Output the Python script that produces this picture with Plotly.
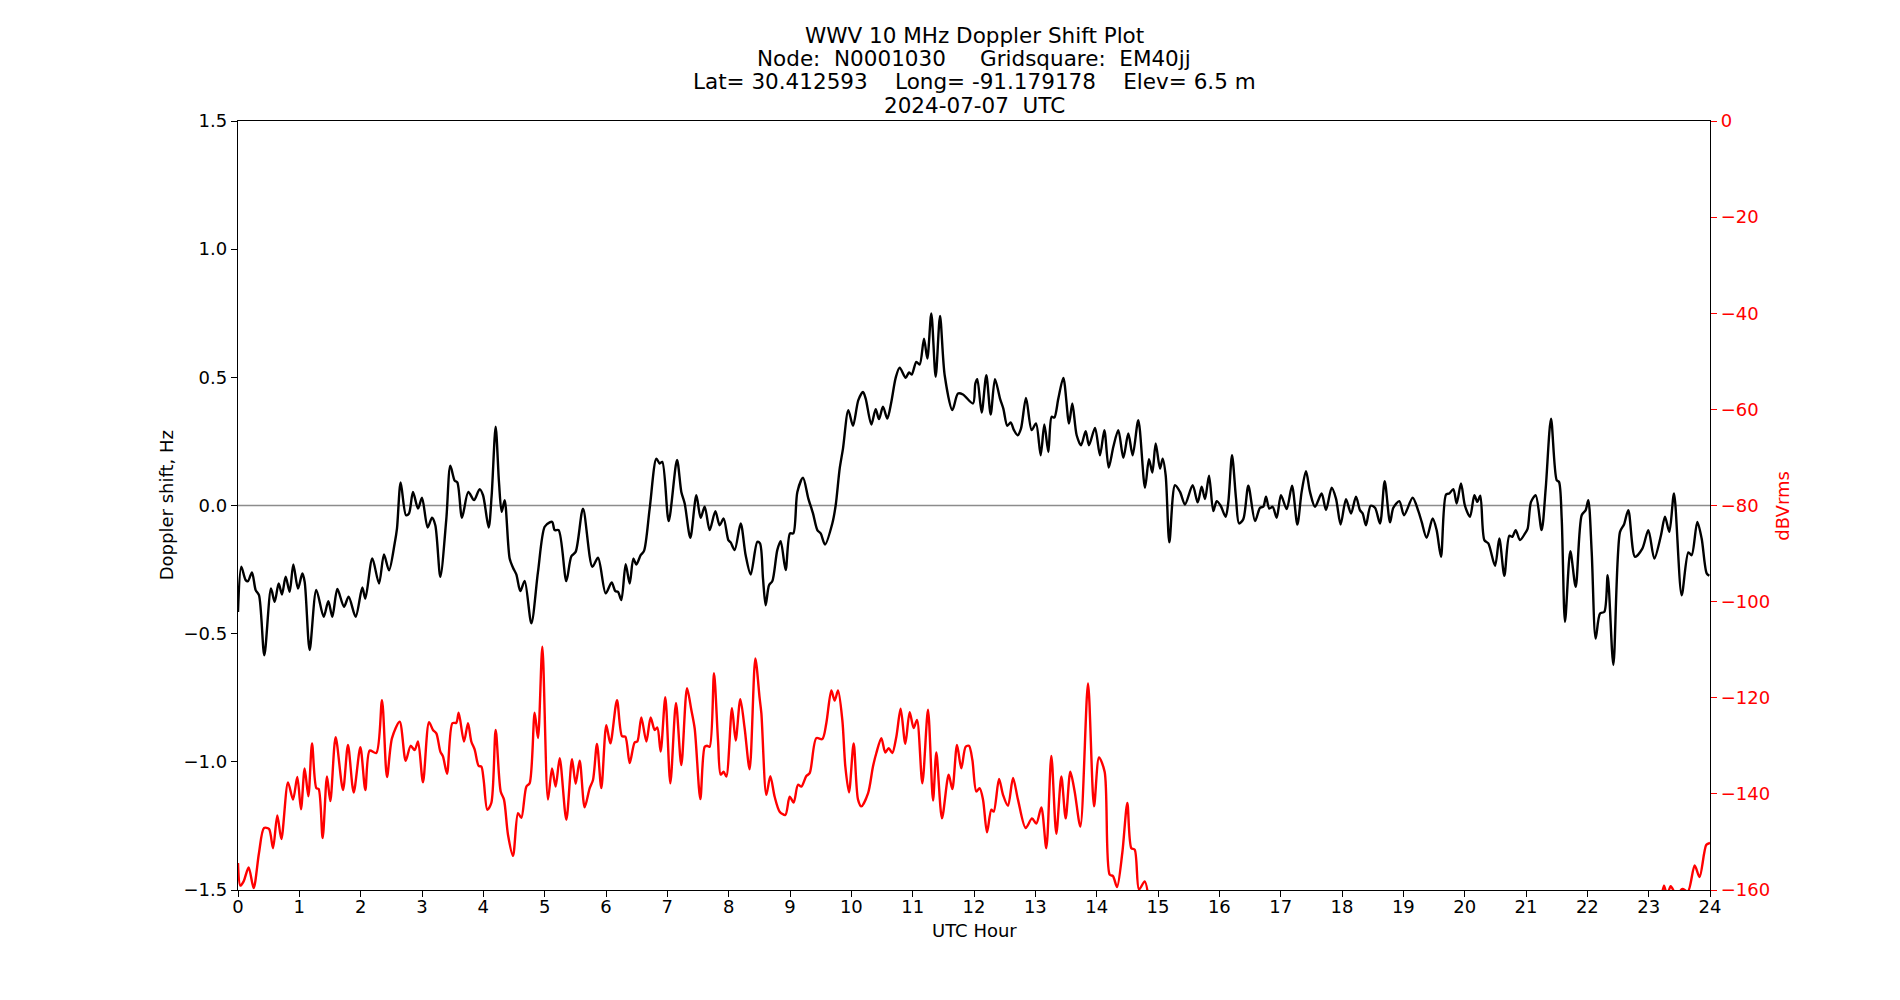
import plotly.graph_objects as go

# ---------------- data ----------------
doppler_hours = [
    0.000, 0.054, 0.125, 0.163, 0.228, 0.288, 0.342, 0.429, 0.538, 0.598, 0.663, 0.717, 0.777, 0.842, 0.902, 0.978,
    1.049, 1.087, 1.168, 1.277, 1.397, 1.473, 1.538, 1.620, 1.728, 1.804, 1.918, 2.027, 2.076, 2.190, 2.299, 2.380,
    2.462, 2.554, 2.592, 2.652, 2.739, 2.788, 2.853, 2.935, 3.000, 3.092, 3.163, 3.217, 3.299, 3.397, 3.462, 3.533,
    3.576, 3.652, 3.755, 3.848, 3.940, 3.995, 4.087, 4.136, 4.201, 4.255, 4.299, 4.348, 4.429, 4.484, 4.538, 4.603,
    4.674, 4.783, 4.891, 5.000, 5.082, 5.125, 5.163, 5.228, 5.353, 5.435, 5.505, 5.625, 5.777, 5.870, 5.995, 6.092,
    6.152, 6.196, 6.250, 6.321, 6.386, 6.446, 6.495, 6.565, 6.620, 6.712, 6.821, 6.875, 6.918, 7.022, 7.158, 7.228,
    7.283, 7.375, 7.473, 7.543, 7.609, 7.690, 7.783, 7.853, 7.918, 7.995, 8.033, 8.098, 8.196, 8.277, 8.359, 8.467,
    8.511, 8.560, 8.603, 8.658, 8.712, 8.793, 8.848, 8.929, 9.000, 9.054, 9.120, 9.212, 9.299, 9.375, 9.446, 9.500,
    9.571, 9.690, 9.745, 9.810, 9.864, 9.951, 10.027, 10.114, 10.190, 10.234, 10.326, 10.397, 10.451, 10.516, 10.587,
    10.652, 10.723, 10.788, 10.886, 10.940, 10.984, 11.060, 11.114, 11.185, 11.239, 11.304, 11.375, 11.446, 11.522,
    11.647, 11.739, 11.821, 11.984, 12.022, 12.054, 12.125, 12.201, 12.272, 12.342, 12.424, 12.478, 12.543, 12.598,
    12.652, 12.712, 12.766, 12.848, 12.940, 13.011, 13.087, 13.147, 13.212, 13.266, 13.310, 13.375, 13.457, 13.549,
    13.603, 13.674, 13.745, 13.821, 13.875, 13.973, 14.054, 14.125, 14.196, 14.272, 14.353, 14.435, 14.516, 14.587,
    14.679, 14.788, 14.853, 14.908, 14.962, 15.033, 15.076, 15.125, 15.185, 15.277, 15.359, 15.440, 15.565, 15.647,
    15.712, 15.766, 15.832, 15.902, 15.957, 16.022, 16.103, 16.147, 16.207, 16.272, 16.321, 16.391, 16.473, 16.582,
    16.663, 16.717, 16.761, 16.815, 16.870, 16.935, 17.005, 17.098, 17.185, 17.272, 17.342, 17.413, 17.478, 17.560,
    17.668, 17.739, 17.832, 17.902, 17.978, 18.065, 18.147, 18.228, 18.293, 18.337, 18.391, 18.467, 18.538, 18.620,
    18.696, 18.783, 18.837, 18.935, 19.011, 19.152, 19.245, 19.299, 19.380, 19.478, 19.543, 19.614, 19.696, 19.750,
    19.815, 19.870, 19.940, 20.005, 20.087, 20.158, 20.207, 20.255, 20.321, 20.386, 20.495, 20.565, 20.647, 20.728,
    20.777, 20.832, 20.902, 20.984, 21.027, 21.082, 21.158, 21.255, 21.321, 21.408, 21.500, 21.538, 21.582, 21.636,
    21.723, 21.810, 21.908, 21.973, 22.016, 22.071, 22.136, 22.207, 22.277, 22.332, 22.424, 22.533, 22.598, 22.668,
    22.777, 22.897, 22.995, 23.092, 23.201, 23.266, 23.337, 23.413, 23.538, 23.647, 23.701, 23.793, 23.864, 23.946,
    23.989,
]
doppler_hz = [
    -0.415, -0.239, -0.291, -0.295, -0.261, -0.330, -0.350, -0.584, -0.324, -0.376, -0.304, -0.347, -0.278, -0.337,
    -0.230, -0.324, -0.265, -0.298, -0.564, -0.329, -0.434, -0.373, -0.434, -0.326, -0.395, -0.356, -0.434, -0.320,
    -0.363, -0.207, -0.304, -0.191, -0.253, -0.148, -0.090, 0.090, -0.038, -0.031, 0.053, -0.012, 0.030, -0.086,
    -0.048, -0.077, -0.278, -0.051, 0.155, 0.097, 0.090, -0.048, 0.053, 0.021, 0.064, 0.040, -0.086, 0.040, 0.307,
    0.092, -0.025, 0.021, -0.207, -0.243, -0.269, -0.334, -0.294, -0.460, -0.259, -0.083, -0.066, -0.064, -0.096,
    -0.096, -0.295, -0.198, -0.181, -0.012, -0.239, -0.204, -0.343, -0.300, -0.334, -0.337, -0.369, -0.229, -0.304,
    -0.207, -0.230, -0.194, -0.177, -0.012, 0.183, 0.164, 0.170, -0.061, 0.178, 0.053, 0.008, -0.126, 0.040, -0.048,
    -0.005, -0.096, -0.022, -0.077, -0.051, -0.135, -0.144, -0.174, -0.070, -0.194, -0.269, -0.142, -0.148, -0.285,
    -0.389, -0.311, -0.295, -0.174, -0.139, -0.252, -0.109, -0.109, 0.053, 0.108, 0.027, -0.031, -0.096, -0.109,
    -0.152, -0.070, 0.001, 0.144, 0.222, 0.372, 0.311, 0.411, 0.443, 0.417, 0.316, 0.376, 0.337, 0.385, 0.339,
    0.404, 0.498, 0.538, 0.498, 0.519, 0.511, 0.560, 0.550, 0.651, 0.573, 0.749, 0.502, 0.739, 0.508, 0.372, 0.437,
    0.433, 0.398, 0.476, 0.493, 0.363, 0.508, 0.355, 0.493, 0.417, 0.378, 0.311, 0.324, 0.294, 0.274, 0.300, 0.420,
    0.294, 0.320, 0.196, 0.316, 0.209, 0.346, 0.343, 0.417, 0.498, 0.320, 0.398, 0.274, 0.235, 0.290, 0.235, 0.303,
    0.196, 0.294, 0.148, 0.229, 0.294, 0.186, 0.281, 0.196, 0.333, 0.069, 0.181, 0.129, 0.242, 0.144, 0.183, 0.118,
    -0.144, 0.079, 0.053, 0.004, 0.079, 0.012, 0.073, 0.025, 0.116, -0.022, 0.017, -0.001, -0.044, 0.014, 0.196,
    0.027, -0.070, -0.053, 0.077, -0.061, -0.009, -0.005, 0.034, -0.012, -0.005, -0.048, 0.040, -0.014, 0.077,
    -0.074, 0.053, 0.134, 0.053, -0.005, 0.047, -0.018, 0.069, 0.027, -0.074, 0.025, -0.031, 0.034, -0.018, -0.031,
    -0.077, -0.001, -0.009, -0.070, 0.095, -0.066, -0.009, 0.017, -0.038, 0.030, -0.022, -0.064, -0.126, -0.051,
    -0.096, -0.200, 0.043, 0.047, 0.064, 0.008, 0.086, -0.001, -0.044, 0.040, 0.014, 0.038, -0.135, -0.148, -0.235,
    -0.129, -0.274, -0.118, -0.122, -0.096, -0.135, -0.109, -0.090, 0.014, 0.040, -0.096, 0.066, 0.339, 0.099,
    0.092, -0.051, -0.454, -0.178, -0.317, -0.038, -0.018, 0.021, -0.181, -0.519, -0.421, -0.415, -0.272, -0.622,
    -0.103, -0.074, -0.018, -0.200, -0.168, -0.096, -0.207, -0.116, -0.044, -0.103, 0.047, -0.350, -0.183, -0.194,
    -0.064, -0.129, -0.265, -0.274,
]

power_hours = [
    0.000, 0.038, 0.092, 0.174, 0.255, 0.342, 0.424, 0.505, 0.571, 0.641, 0.707, 0.815, 0.897, 0.967, 1.027, 1.087,
    1.147, 1.207, 1.277, 1.315, 1.380, 1.451, 1.505, 1.592, 1.712, 1.793, 1.886, 1.995, 2.076, 2.147, 2.255, 2.348,
    2.429, 2.511, 2.636, 2.734, 2.815, 2.880, 2.935, 3.016, 3.114, 3.179, 3.234, 3.299, 3.342, 3.408, 3.495, 3.560,
    3.598, 3.685, 3.750, 3.804, 3.859, 3.924, 3.967, 4.005, 4.065, 4.130, 4.201, 4.283, 4.337, 4.402, 4.484, 4.565,
    4.620, 4.701, 4.755, 4.837, 4.891, 4.962, 5.054, 5.120, 5.179, 5.245, 5.353, 5.446, 5.505, 5.571, 5.652, 5.734,
    5.788, 5.853, 5.924, 6.005, 6.071, 6.179, 6.261, 6.315, 6.386, 6.467, 6.511, 6.576, 6.658, 6.728, 6.793, 6.837,
    6.891, 6.967, 7.049, 7.141, 7.228, 7.321, 7.391, 7.446, 7.538, 7.609, 7.647, 7.690, 7.761, 7.826, 7.870, 7.918,
    7.962, 8.054, 8.114, 8.190, 8.261, 8.342, 8.435, 8.505, 8.533, 8.614, 8.679, 8.750, 8.832, 8.924, 8.995, 9.060,
    9.130, 9.185, 9.266, 9.321, 9.429, 9.527, 9.592, 9.674, 9.728, 9.783, 9.853, 9.902, 9.962, 10.038, 10.109,
    10.163, 10.272, 10.353, 10.408, 10.489, 10.554, 10.609, 10.668, 10.734, 10.804, 10.880, 10.951, 11.016, 11.071,
    11.158, 11.250, 11.332, 11.386, 11.478, 11.587, 11.647, 11.723, 11.793, 11.864, 11.918, 11.973, 12.038, 12.092,
    12.147, 12.212, 12.283, 12.321, 12.408, 12.473, 12.554, 12.636, 12.717, 12.842, 12.946, 13.016, 13.098, 13.179,
    13.261, 13.342, 13.424, 13.495, 13.571, 13.641, 13.734, 13.859, 13.957, 14.038, 14.130, 14.212, 14.266, 14.332,
    14.418, 14.500, 14.565, 14.620, 14.690, 14.783, 14.850, 19.000, 23.200, 23.250, 23.300, 23.360, 23.450, 23.550,
    23.640, 23.750, 23.830, 23.940, 24.000,
]
power_dbv = [
    -154.4, -159.1, -158.2, -155.3, -159.6, -152.3, -147.1, -147.3, -151.3, -144.5, -149.4, -137.6, -141.2, -136.5,
    -143.2, -134.7, -140.5, -129.5, -138.8, -139.0, -149.2, -136.4, -141.5, -128.2, -139.2, -129.8, -139.7, -130.3,
    -139.2, -131.0, -131.5, -120.5, -136.5, -128.4, -125.0, -133.1, -130.0, -130.9, -129.1, -137.6, -125.1, -126.7,
    -127.4, -131.2, -132.2, -135.8, -125.3, -125.2, -123.1, -129.1, -125.3, -129.1, -130.8, -134.2, -134.3, -137.1,
    -143.3, -141.9, -126.7, -139.5, -141.2, -148.5, -152.9, -144.0, -145.0, -138.5, -137.8, -123.1, -128.4, -109.4,
    -141.2, -134.7, -138.5, -132.6, -145.4, -132.8, -137.9, -133.1, -142.8, -138.8, -137.1, -129.6, -138.8, -125.7,
    -129.5, -120.5, -128.0, -128.1, -133.6, -129.3, -129.1, -124.1, -129.1, -124.1, -126.7, -126.2, -131.2, -119.9,
    -137.8, -121.1, -134.0, -118.0, -122.5, -126.4, -141.1, -130.2, -130.0, -130.2, -114.9, -128.8, -136.0, -135.4,
    -136.4, -122.2, -128.9, -120.3, -126.4, -134.9, -111.8, -120.1, -123.2, -140.2, -136.3, -140.6, -143.7, -144.4,
    -140.6, -141.8, -138.1, -138.5, -136.3, -135.7, -128.4, -128.6, -125.3, -118.5, -120.6, -118.5, -124.6, -134.3,
    -139.7, -129.5, -141.2, -142.6, -139.9, -134.3, -131.5, -128.4, -131.4, -130.5, -131.5, -128.1, -122.3, -129.6,
    -123.0, -126.3, -124.6, -137.8, -122.5, -141.4, -131.4, -145.1, -136.0, -139.0, -129.8, -134.7, -130.2, -130.0,
    -132.9, -139.5, -138.8, -141.2, -148.0, -143.3, -143.7, -136.9, -140.2, -142.5, -136.7, -141.2, -147.1, -145.1,
    -146.2, -142.8, -151.3, -132.1, -148.3, -136.4, -145.1, -135.4, -139.5, -146.8, -117.0, -142.6, -132.4, -135.4,
    -156.8, -157.1, -159.4, -152.3, -141.9, -151.3, -151.6, -159.9, -158.2, -162.0, None, -162.0, -159.1, -161.0,
    -159.2, -161.0, -159.8, -160.3, -154.9, -157.3, -150.6, -150.2,
]

x_ticks = list(range(0, 25))
left_ticks = [-1.5, -1.0, -0.5, 0.0, 0.5, 1.0, 1.5]
left_tick_text = ["\u22121.5", "\u22121.0", "\u22120.5", "0.0", "0.5", "1.0", "1.5"]
right_ticks = [0, -20, -40, -60, -80, -100, -120, -140, -160]
right_tick_text = ["0" if v == 0 else "\u2212" + str(-v) for v in right_ticks]

title_lines = [
    "WWV 10 MHz Doppler Shift Plot",
    "Node:  N0001030     Gridsquare:  EM40jj",
    "Lat= 30.412593    Long= -91.179178    Elev= 6.5 m",
    "2024-07-07  UTC",
]

FONT = "DejaVu Sans"
TICK_SIZE = 18
TITLE_SIZE = 21.5

fig = go.Figure()
fig.add_trace(go.Scatter(
    x=doppler_hours, y=doppler_hz, mode="lines",
    line=dict(color="black", width=2.4, shape="spline", smoothing=0.8),
    yaxis="y", showlegend=False, hoverinfo="skip",
))
fig.add_trace(go.Scatter(
    x=power_hours, y=power_dbv, mode="lines",
    line=dict(color="red", width=2.4, shape="spline", smoothing=0.8),
    yaxis="y2", showlegend=False, hoverinfo="skip", connectgaps=False,
))

fig.add_shape(type="line", xref="paper", x0=0, x1=1, yref="y", y0=0, y1=0,
              line=dict(color="#8c8c8c", width=1.6), layer="below")

fig.update_layout(
    width=1900, height=1000,
    margin=dict(l=238, r=190, t=121, b=110, pad=0),
    paper_bgcolor="white", plot_bgcolor="white",
    font=dict(family=FONT, size=TICK_SIZE, color="black"),
    xaxis=dict(
        range=[0, 24], tickvals=x_ticks, ticktext=[str(t) for t in x_ticks],
        showgrid=False, zeroline=False, showline=True, linecolor="black", linewidth=1.3,
        mirror=True, ticks="outside", ticklen=6, tickwidth=1.3, tickcolor="black",
        ticklabelstandoff=-6,
        tickfont=dict(family=FONT, size=TICK_SIZE, color="black"),
    ),
    yaxis=dict(
        range=[-1.5, 1.5], tickvals=left_ticks, ticktext=left_tick_text,
        showgrid=False, zeroline=False, showline=True, linecolor="black", linewidth=1.3,
        ticks="outside", ticklen=6, tickwidth=1.3, tickcolor="black",
        tickfont=dict(family=FONT, size=TICK_SIZE, color="black"),
    ),
    yaxis2=dict(
        range=[-160, 0], overlaying="y", side="right",
        tickvals=right_ticks, ticktext=right_tick_text,
        showgrid=False, zeroline=False, showline=True, linecolor="black", linewidth=1.3,
        ticks="outside", ticklen=6, tickwidth=1.3, tickcolor="red",
        tickfont=dict(family=FONT, size=TICK_SIZE, color="red"),
    ),
)

# title lines (placed as in the reference)
title_y = [1.1110, 1.0811, 1.0512, 1.0198]
for txt, yy in zip(title_lines, title_y):
    fig.add_annotation(text=txt, xref="paper", yref="paper", x=0.5, y=yy,
                       xanchor="center", yanchor="middle", showarrow=False,
                       font=dict(family=FONT, size=TITLE_SIZE, color="black"))

fig.add_annotation(text="UTC Hour", xref="paper", yref="paper", x=0.5, y=-0.0528,
                   xanchor="center", yanchor="middle", showarrow=False,
                   font=dict(family=FONT, size=TICK_SIZE, color="black"))
fig.add_annotation(text="Doppler shift, Hz", xref="paper", yref="paper", x=-0.0484, y=0.5,
                   xanchor="center", yanchor="middle", showarrow=False, textangle=-90,
                   font=dict(family=FONT, size=TICK_SIZE, color="black"))
fig.add_annotation(text="dBVrms", xref="paper", yref="paper", x=1.049, y=0.5,
                   xanchor="center", yanchor="middle", showarrow=False, textangle=-90,
                   font=dict(family=FONT, size=TICK_SIZE, color="red"))

fig.write_html("out.html")
